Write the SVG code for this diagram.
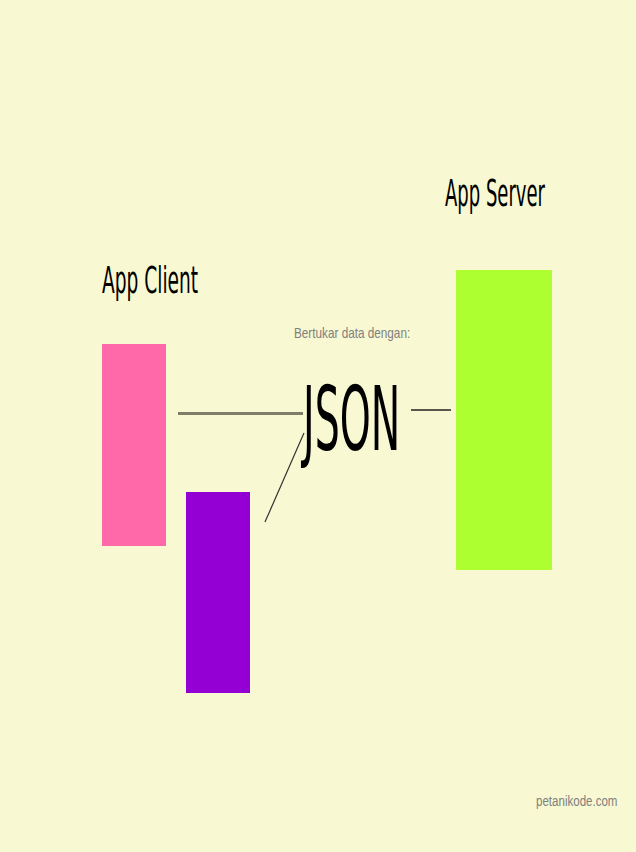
<svg xmlns="http://www.w3.org/2000/svg" width="636" height="852" viewBox="0 0 636 852">
<style>
.title{font-family:"DejaVu Sans","Liberation Sans",sans-serif;fill:#000;}
.note{font-family:"Liberation Sans","DejaVu Sans",sans-serif;fill:#808080;}
</style>
<rect width="636" height="852" fill="#f8f8d2"/>
<g id="connectors">
<line x1="178" y1="413.5" x2="303" y2="413.5" stroke="#7d7d68" stroke-width="3"/>
<line x1="265" y1="522" x2="304" y2="433" stroke="#333" stroke-width="1.2"/>
<line x1="411" y1="410" x2="451" y2="410" stroke="#222" stroke-width="1.5"/>
</g>
<g id="client-label"><text class="title" transform="translate(102,293) scale(0.49,1)" font-size="38">App Client</text></g>
<g id="server-label"><text class="title" transform="translate(445,206) scale(0.474,1)" font-size="38">App Server</text></g>
<g id="client-a"><rect x="102" y="344" width="64" height="202" fill="#ff69a9"/></g>
<g id="client-b"><rect x="186" y="492" width="64" height="201" fill="#9400d3"/></g>
<g id="server"><rect x="456" y="270" width="96" height="300" fill="#adff2f"/></g>
<g id="json"><text class="title" transform="translate(303,450) scale(0.443,1)" font-size="89">JSON</text></g>
<g id="caption"><text class="note" transform="translate(294,338) scale(0.84,1)" font-size="14">Bertukar data dengan:</text></g>
<g id="footer"><text class="note" transform="translate(536,806) scale(0.77,1)" font-size="15">petanikode.com</text></g>
</svg>
